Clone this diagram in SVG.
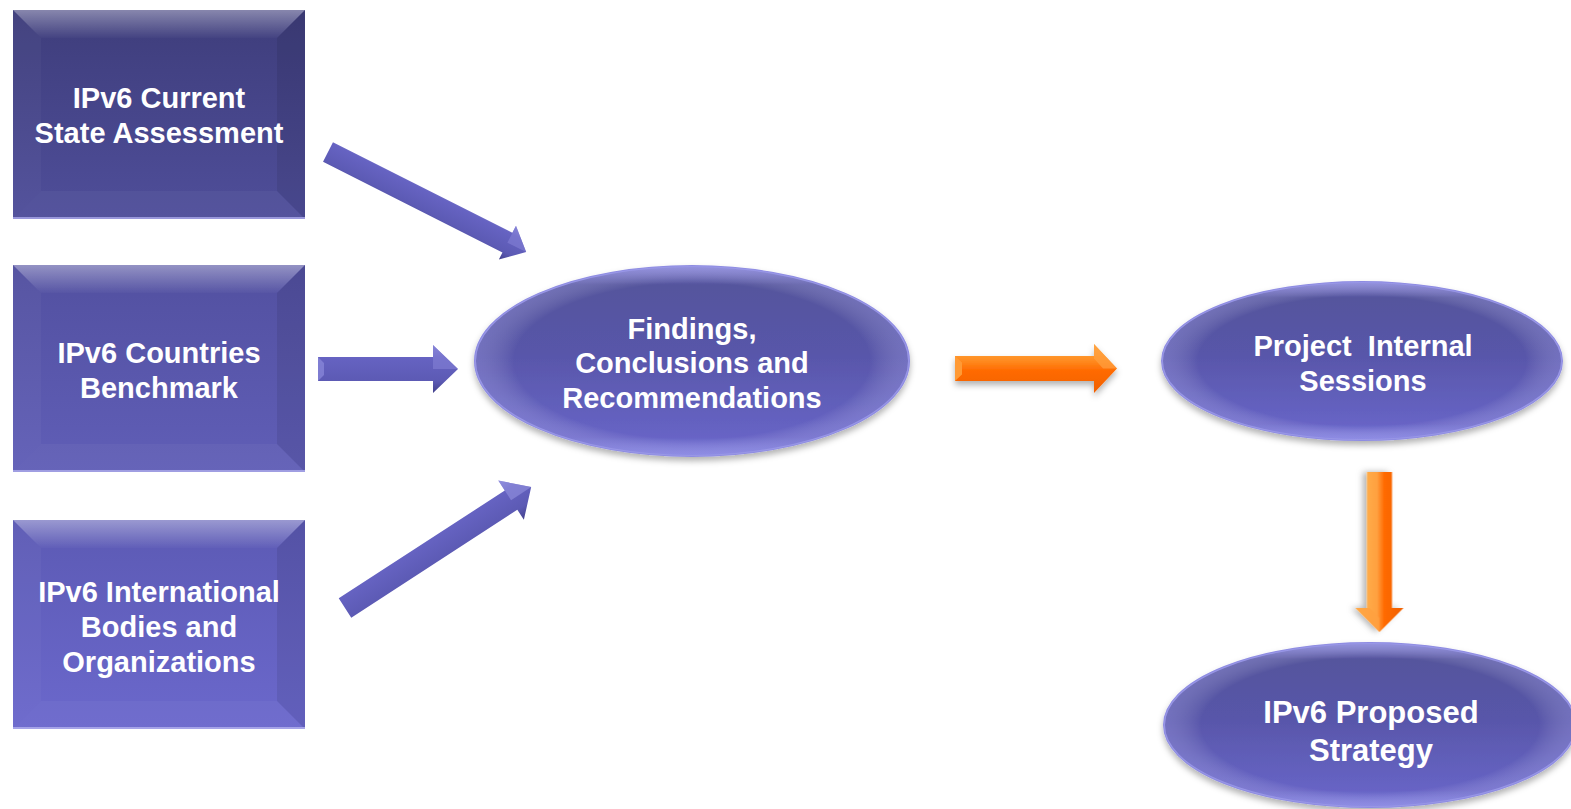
<svg xmlns="http://www.w3.org/2000/svg" width="1571" height="809" viewBox="0 0 1571 809">
<defs>
<style>
.t{font-family:"Liberation Sans",Arial,sans-serif;font-weight:bold;fill:#ffffff;text-anchor:middle;white-space:pre}
.t29{font-size:29px}
.t31{font-size:31px}
.bt{fill:url(#bevTop)}
.br{fill:#000000;fill-opacity:0.08}
.bl{fill:#ffffff;fill-opacity:0.03}
.bb{fill:#ffffff;fill-opacity:0.04}
.el{stroke:#8e8ce2;stroke-width:2;filter:url(#sh)}
</style>
<linearGradient id="g1" x1="0" y1="0" x2="0" y2="1"><stop offset="0" stop-color="#3e3d7b"/><stop offset="1" stop-color="#4f4e9a"/></linearGradient>
<linearGradient id="g2" x1="0" y1="0" x2="0" y2="1"><stop offset="0" stop-color="#5250a0"/><stop offset="1" stop-color="#605eb7"/></linearGradient>
<linearGradient id="g3" x1="0" y1="0" x2="0" y2="1"><stop offset="0" stop-color="#5c5ab4"/><stop offset="1" stop-color="#6b68cc"/></linearGradient>
<linearGradient id="bevTop" x1="0" y1="0" x2="0" y2="1"><stop offset="0" stop-color="#ffffff" stop-opacity="0.38"/><stop offset="1" stop-color="#ffffff" stop-opacity="0.02"/></linearGradient>
<linearGradient id="ge" x1="0" y1="0" x2="0" y2="1">
<stop offset="0" stop-color="#8886d8"/><stop offset="0.1" stop-color="#55549d"/><stop offset="0.45" stop-color="#5856a9"/><stop offset="0.9" stop-color="#6764c5"/><stop offset="1" stop-color="#807ee0"/></linearGradient>
<radialGradient id="ger" cx="0.5" cy="0.5" r="0.5"><stop offset="0.82" stop-color="#ffffff" stop-opacity="0"/><stop offset="1" stop-color="#b0aef0" stop-opacity="0.3"/></radialGradient>
<linearGradient id="ab" x1="0" y1="0" x2="0" y2="1"><stop offset="0" stop-color="#8c8adb"/><stop offset="0.25" stop-color="#6663c2"/><stop offset="0.75" stop-color="#5c5ab4"/><stop offset="1" stop-color="#43418c"/></linearGradient>
<linearGradient id="ao" x1="0" y1="0" x2="0" y2="1"><stop offset="0" stop-color="#ffb04a"/><stop offset="0.35" stop-color="#ff8a1e"/><stop offset="0.55" stop-color="#ff6a00"/><stop offset="1" stop-color="#f06000"/></linearGradient>
<linearGradient id="aov" x1="0" y1="0" x2="0" y2="1"><stop offset="0" stop-color="#f06000"/><stop offset="0.4" stop-color="#ff6a00"/><stop offset="0.55" stop-color="#ffa040"/><stop offset="1" stop-color="#ffb850"/></linearGradient>
<filter id="sh" x="-10%" y="-10%" width="120%" height="130%"><feDropShadow dx="0" dy="4" stdDeviation="3" flood-color="#000000" flood-opacity="0.3"/></filter>
<filter id="sha" x="-10%" y="-30%" width="120%" height="180%"><feDropShadow dx="0" dy="4" stdDeviation="3" flood-color="#000000" flood-opacity="0.3"/></filter>
</defs>
<rect width="1571" height="809" fill="#ffffff"/>

<g id="connectors">
<g id="arr1" transform="translate(328,152) rotate(26.8)">
<polygon points="0,-11 201,-11 201,-19 222,0 201,19 201,11 0,11" fill="url(#ab)"/>
<polygon points="201,-19 222,0 201,0" fill="#8381d6" fill-opacity="0.6"/>
</g>
<g id="arr2" transform="translate(318,369)">
<polygon points="0,-12 115,-12 115,-24 140,0 115,24 115,12 0,12" fill="url(#ab)"/>
<polygon points="115,-24 140,0 115,0" fill="#8381d6" fill-opacity="0.6"/>
<polygon points="0,-12 6,-6 6,6 0,12" fill="#8c8adb" fill-opacity="0.7"/>
</g>
<g id="arr3" transform="translate(345,608) rotate(-33)">
<polygon points="0,-11.5 198,-11.5 198,-23.5 222,0 198,23.5 198,11.5 0,11.5" fill="url(#ab)"/>
<polygon points="198,-23.5 222,0 198,0" fill="#9492e0" fill-opacity="0.6"/>
</g>
<g id="arr4" transform="translate(955,368.5)" filter="url(#sha)">
<polygon points="0,-12.5 139,-12.5 139,-24.5 162,0 139,24.5 139,12.5 0,12.5" fill="url(#ao)"/>
<polygon points="0,-12.5 7,-6 7,6 0,12.5" fill="#ff9a35"/>
<polygon points="139,-24.5 162,0 148,0 139,-10" fill="#ffa040" fill-opacity="0.7"/>
</g>
<g id="arr5" transform="translate(1379.5,472) rotate(90)" filter="url(#sha)">
<polygon points="0,-12.5 136,-12.5 136,-24 160,0 136,24 136,12.5 0,12.5" fill="url(#aov)"/>
<polygon points="136,24 160,0 146,0 136,10" fill="#ffa040" fill-opacity="0.7"/>
</g>
</g>

<g id="box1">
<rect x="13" y="10" width="292" height="209" fill="url(#g1)"/>
<polygon class="bt" points="13,10 305,10 277,38 41,38"/>
<polygon class="br" points="305,10 305,219 277,191 277,38"/>
<polygon class="bl" points="13,10 41,38 41,191 13,219"/>
<polygon class="bb" points="13,219 41,191 277,191 305,219"/>
<rect x="13" y="217" width="292" height="2" fill="#9a98dc"/>
<text class="t t29" x="159" y="108">IPv6 Current</text>
<text class="t t29" x="159" y="143">State Assessment</text>
</g>

<g id="box2">
<rect x="13" y="265" width="292" height="207" fill="url(#g2)"/>
<polygon class="bt" points="13,265 305,265 277,293 41,293"/>
<polygon class="br" points="305,265 305,472 277,444 277,293"/>
<polygon class="bl" points="13,265 41,293 41,444 13,472"/>
<polygon class="bb" points="13,472 41,444 277,444 305,472"/>
<rect x="13" y="470" width="292" height="2" fill="#a09ee2"/>
<text class="t t29" x="159" y="363">IPv6 Countries</text>
<text class="t t29" x="159" y="398">Benchmark</text>
</g>

<g id="box3">
<rect x="13" y="520" width="292" height="209" fill="url(#g3)"/>
<polygon class="bt" points="13,520 305,520 277,548 41,548"/>
<polygon class="br" points="305,520 305,729 277,701 277,548"/>
<polygon class="bl" points="13,520 41,548 41,701 13,729"/>
<polygon class="bb" points="13,729 41,701 277,701 305,729"/>
<rect x="13" y="727" width="292" height="2" fill="#a6a4e8"/>
<text class="t t29" x="159" y="602">IPv6 International</text>
<text class="t t29" x="159" y="637">Bodies and</text>
<text class="t t29" x="159" y="672">Organizations</text>
</g>

<g id="findings">
<ellipse class="el" cx="692" cy="361" rx="217" ry="95" fill="url(#ge)"/>
<ellipse cx="692" cy="361" rx="217" ry="95" fill="url(#ger)"/>
<text class="t t29" x="692" y="339">Findings,</text>
<text class="t t29" x="692" y="373">Conclusions and</text>
<text class="t t29" x="692" y="408">Recommendations</text>
</g>

<g id="sessions">
<ellipse class="el" cx="1362" cy="361" rx="200" ry="79" fill="url(#ge)"/>
<ellipse cx="1362" cy="361" rx="200" ry="79" fill="url(#ger)"/>
<text class="t t29" x="1363" y="356">Project  Internal</text>
<text class="t t29" x="1363" y="391">Sessions</text>
</g>

<g id="strategy">
<ellipse class="el" cx="1370" cy="725" rx="206" ry="82" fill="url(#ge)"/>
<ellipse cx="1370" cy="725" rx="206" ry="82" fill="url(#ger)"/>
<text class="t t31" x="1371" y="723">IPv6 Proposed</text>
<text class="t t31" x="1371" y="761">Strategy</text>
</g>
</svg>
